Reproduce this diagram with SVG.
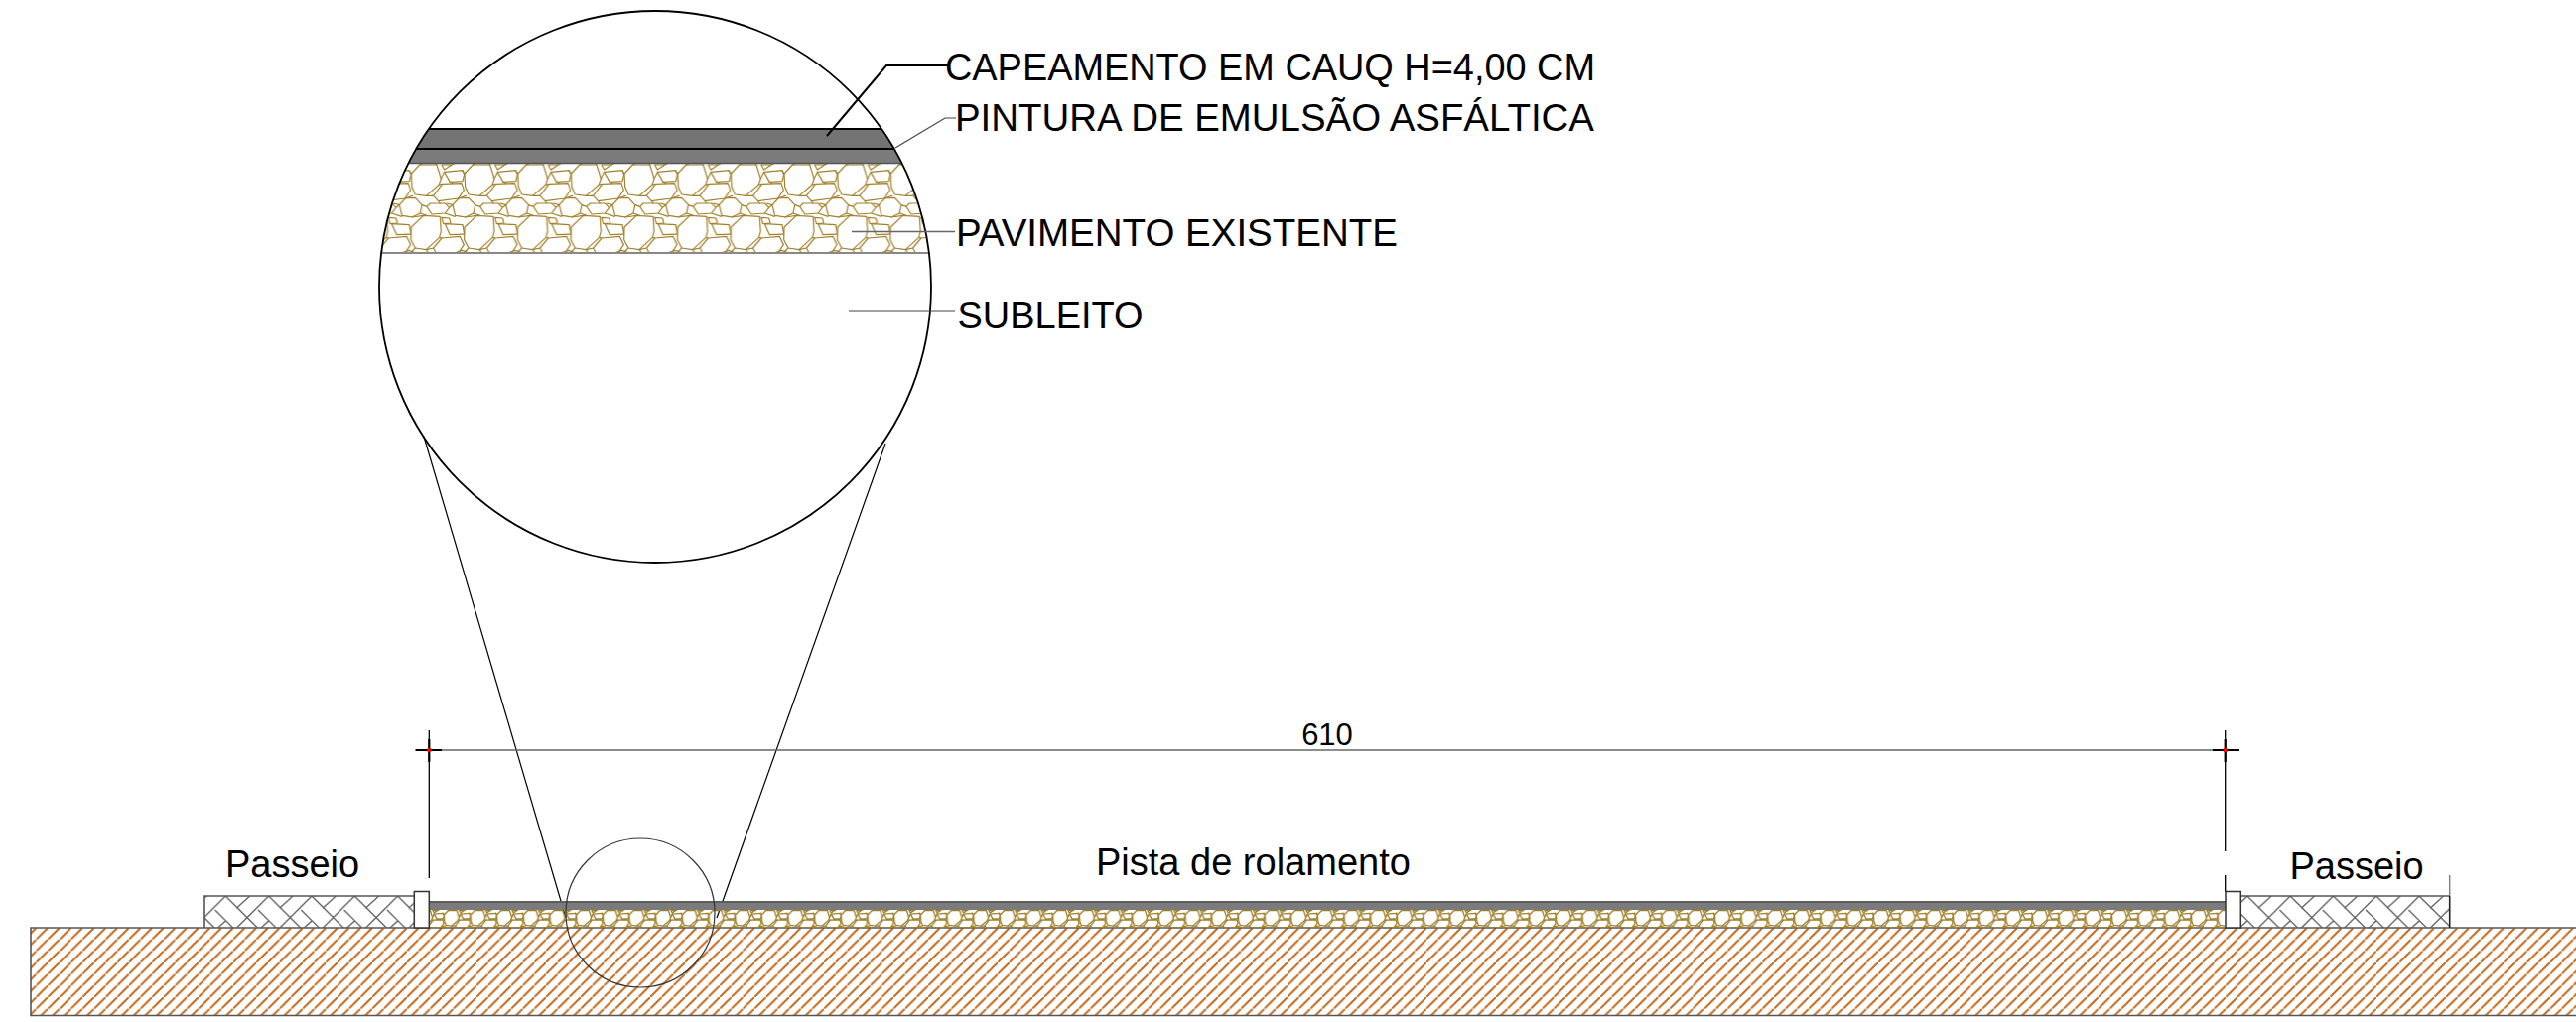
<svg xmlns="http://www.w3.org/2000/svg" xmlns:xlink="http://www.w3.org/1999/xlink" width="2595" height="1030" viewBox="0 0 2595 1030">
<style>
text{font-family:"Liberation Sans",Arial,sans-serif;fill:#000}
.lab{font-size:38.5px}
.sec{font-size:38px}
.stone{fill:none;stroke:#a0802a;stroke-linejoin:round;stroke-linecap:round}
.thin{fill:none;stroke:#444;stroke-width:1.2}
.blk{fill:none;stroke:#000}
.edge{stroke:#555;stroke-width:1.6;fill:none}
.curb{fill:#fff;stroke:#333;stroke-width:1.5}
</style>
<defs>
<g id="st" class="stone">
<polygon points="103,195 128,168 180,168 193,210 187,228 148,262 115,258 105,235"/>
<polygon points="195,168 225,168 203,183"/>
<polygon points="203,190 258,185 263,197 258,218 220,220"/>
<polygon points="170,262 197,226 255,224 262,245 245,270 185,278"/>
<polygon points="67,290 85,270 115,268 135,290 130,315 105,327 75,322"/>
<polygon points="150,295 160,285 205,285 218,298 205,315 165,318"/>
<polygon points="103,357 140,322 190,325 193,370 188,388 148,425 115,420 102,395"/>
<polygon points="195,328 218,330 222,345 200,347"/>
<polygon points="205,347 258,350 263,378 220,380"/>
<path d="M170,420 195,390 250,385 262,410 245,435M170,420 178,435"/>
<path d="M128,168 135,165M180,168 178,165M193,210 203,190M187,228 197,226M220,220 228,224M225,168 232,165M148,262 170,262M245,270 268,262M185,278 190,285M135,290 150,295M67,290 50,285M130,315 150,322M105,327 140,322M218,298 228,290M205,315 235,325M188,388 195,390M148,425 170,420M115,420 100,435M148,425 155,435M72,435 95,427 118,435M258,185 263,195"/>
</g>
<g id="hb" fill="none" stroke="#5f5f5f" stroke-width="3.9">
<path d="M-97,97 0,0 97,97M73,0 33,37M-32,42 23,97M-24,97 0,75"/>
</g>
<pattern id="stones" patternUnits="userSpaceOnUse" x="413.33" y="165" width="53.67" height="92">
<g transform="scale(.33333) translate(-100,-165)" stroke-width="3.6">
<use xlink:href="#st" href="#st" x="-161"/><use xlink:href="#st" href="#st"/><use xlink:href="#st" href="#st" x="161"/>
</g>
</pattern>
<pattern id="stonesSmall" patternUnits="userSpaceOnUse" x="420.17" y="917" width="26.67" height="20">
<g transform="scale(.16565) translate(-100,-165)" stroke-width="8">
<use xlink:href="#st" href="#st" x="-161"/><use xlink:href="#st" href="#st"/><use xlink:href="#st" href="#st" x="161"/>
</g>
</pattern>
<pattern id="herring" patternUnits="userSpaceOnUse" x="227.33" y="903" width="43.33" height="34">
<g transform="scale(.33333)">
<use xlink:href="#hb" href="#hb" x="-130"/><use xlink:href="#hb" href="#hb"/><use xlink:href="#hb" href="#hb" x="130"/>
</g>
</pattern>
<pattern id="hatch" patternUnits="userSpaceOnUse" x="433.33" y="935" width="11.67" height="11.67">
<path d="M-2,13.67 13.67,-2" stroke="#c2691c" stroke-width="2" fill="none"/>
</pattern>
<clipPath id="big"><circle cx="660" cy="289" r="278"/></clipPath>
</defs>

<g id="detail-layers" clip-path="url(#big)">
<rect x="380" y="130" width="560" height="20" fill="#737373"/>
<rect x="380" y="150" width="560" height="14.5" fill="#7b7b7b"/>
<rect x="380" y="165" width="560" height="90" fill="url(#stones)"/>
<path class="blk" stroke-width="2" d="M380,130H940M380,150H940"/>
<path d="M380,164.5H940" stroke="#555" stroke-width="1.5"/>
<path d="M380,255H940" stroke="#888" stroke-width="2"/>
</g>
<g id="detail-circle"><circle cx="660" cy="289" r="278" fill="none" stroke="#000" stroke-width="1.8"/></g>

<g id="connectors">
<path class="blk" stroke-width="2" d="M833,137 893,66H955"/>
<path class="thin" d="M902,149 952,119H963"/>
<path d="M858,233.5H962" stroke="#666" stroke-width="1.3" fill="none"/>
<path class="thin" d="M855,313H962"/>
<path class="blk" stroke-width="1.2" d="M427,440 570,925M892,447 722,925"/>
</g>

<g id="labels">
<text class="lab" x="952" y="81" textLength="655" lengthAdjust="spacingAndGlyphs">CAPEAMENTO EM CAUQ H=4,00 CM</text>
<text class="lab" x="962" y="132" textLength="644" lengthAdjust="spacingAndGlyphs">PINTURA DE EMULSÃO ASFÁLTICA</text>
<text class="lab" x="963" y="248" textLength="445" lengthAdjust="spacingAndGlyphs">PAVIMENTO EXISTENTE</text>
<text class="lab" x="964.5" y="331" textLength="187" lengthAdjust="spacingAndGlyphs">SUBLEITO</text>
</g>

<g id="dimension">
<path d="M432,756H2242" stroke="#666" stroke-width="1.6" fill="none"/>
<path class="blk" stroke-width="1.3" d="M432.3,736V885M2241.7,736V858M2241.7,882V899"/>
<path class="blk" stroke-width="2.2" d="M418.5,756H445M2229,756H2256M432.3,745V768M2241.7,745V768"/>
<circle cx="432.3" cy="756" r="2.3" fill="#f00"/>
<circle cx="2241.7" cy="756" r="2.3" fill="#f00"/>
<text x="1337" y="750.5" font-size="31" text-anchor="middle">610</text>
</g>

<g id="ground">
<rect x="31" y="935" width="2570" height="88.5" fill="url(#hatch)"/>
<path class="edge" d="M2595,935H31V1023.5H2595"/>
</g>
<g id="road">
<rect x="432" y="908.5" width="1810" height="8.5" fill="#7b7b7b"/>
<path d="M432,909H2242" stroke="#5c5c5c" stroke-width="2"/>
<rect x="433" y="917" width="1808" height="18" fill="url(#stonesSmall)"/>
</g>
<g id="passeio-left">
<rect x="206" y="903" width="211.3" height="32" fill="url(#herring)"/>
<path class="edge" d="M206,935V903H417"/>
<rect class="curb" x="417.3" y="898.5" width="15" height="36.5"/>
</g>
<g id="passeio-right">
<rect x="2257.3" y="903" width="210.4" height="32" fill="url(#herring)"/>
<path class="edge" d="M2257,903H2467.7"/>
<path d="M2467.7,882V903" stroke="#777" stroke-width="1.3"/>
<path d="M2467.7,903V935" stroke="#222" stroke-width="1.6"/>
<rect class="curb" x="2242" y="898.5" width="15.3" height="36.5"/>
</g>
<g id="section-labels">
<text class="sec" x="227" y="884">Passeio</text>
<text class="sec" x="2306.5" y="885.5">Passeio</text>
<text class="sec" x="1104" y="881.5">Pista de rolamento</text>
</g>
<g id="detail-marker"><circle cx="645" cy="920" r="75" fill="none" stroke="#333" stroke-width="1.2"/></g>
</svg>
